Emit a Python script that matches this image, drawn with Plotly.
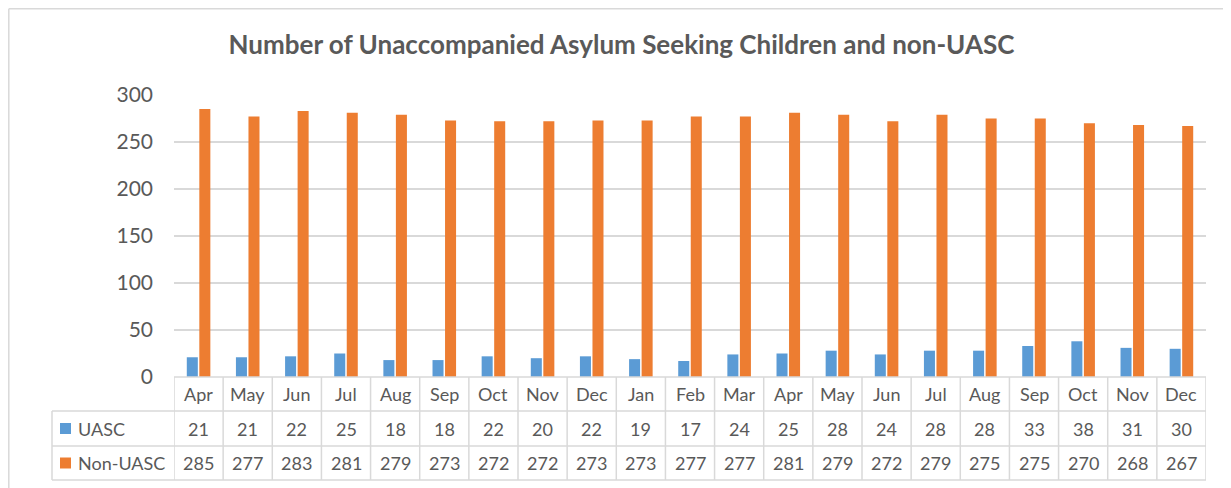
import plotly.graph_objects as go

months = ["Apr", "May", "Jun", "Jul", "Aug", "Sep", "Oct", "Nov", "Dec", "Jan", "Feb",
          "Mar", "Apr", "May", "Jun", "Jul", "Aug", "Sep", "Oct", "Nov", "Dec"]
uasc = [21, 21, 22, 25, 18, 18, 22, 20, 22, 19, 17, 24, 25, 28, 24, 28, 28, 33, 38, 31, 30]
non_uasc = [285, 277, 283, 281, 279, 273, 272, 272, 273, 273, 277, 277, 281, 279, 272, 279,
            275, 275, 270, 268, 267]
series_names = ["UASC", "Non-UASC"]
colors = ["#5B9BD5", "#ED7D31"]
title = "Number of Unaccompanied Asylum Seeking Children and non-UASC"

OFF = 8  # page body margin
W, H = 1231 - OFF, 488 - OFF
L, R, T, B = 174 - OFF, 1206 - OFF, 95 - OFF, 377 - OFF
pw, ph = R - L, B - T


def px(xp):
    return (xp - OFF - L) / pw


def py(yp):
    return (B - (yp - OFF)) / ph


FONT = "Lato, Carlito, Calibri, sans-serif"
TXT = "#595959"
GRID = "#D9D9D9"
n = len(months)
xs = list(range(n))

fig = go.Figure()
for name, vals, c in zip(series_names, [uasc, non_uasc], colors):
    fig.add_trace(go.Bar(x=xs, y=vals, name=name, marker=dict(color=c, line=dict(width=0))))

shapes = []
annotations = []
# chart border (top and left edges)
shapes.append(dict(type="line", xref="paper", yref="paper", x0=px(OFF + 0.8), x1=px(1231), y0=py(OFF + 0.8),
                   y1=py(OFF + 0.8), line=dict(color="#D9D9D9", width=1.5)))
shapes.append(dict(type="line", xref="paper", yref="paper", x0=px(OFF + 0.8), x1=px(OFF + 0.8), y0=py(OFF + 0.8),
                   y1=py(500), line=dict(color="#D9D9D9", width=1.5)))
rows_y = [377, 411, 446, 480]
shapes.append(dict(type="line", xref="x", yref="paper", x0=-0.5, x1=n - 0.5, y0=py(rows_y[0]), y1=py(rows_y[0]),
                   line=dict(color=GRID, width=1.5)))
for yy in rows_y[1:]:
    shapes.append(dict(type="line", xref="paper", yref="paper", x0=px(52), x1=1, y0=py(yy), y1=py(yy),
                       line=dict(color=GRID, width=1.5)))
for i in range(n + 1):
    shapes.append(dict(type="line", xref="x", yref="paper", x0=i - 0.5, x1=i - 0.5, y0=py(rows_y[0]),
                       y1=py(rows_y[3]), line=dict(color=GRID, width=1.5)))
shapes.append(dict(type="line", xref="paper", yref="paper", x0=px(52), x1=px(52), y0=py(rows_y[1]),
                   y1=py(rows_y[3]), line=dict(color=GRID, width=1.5)))

centers = [(rows_y[k] + rows_y[k + 1]) / 2 for k in range(3)]
for i, m in enumerate(months):
    for k, txt in enumerate([m, str(uasc[i]), str(non_uasc[i])]):
        annotations.append(dict(x=i, y=py(centers[k]), xref="x", yref="paper", text=txt, showarrow=False,
                                yanchor="middle", font=dict(size=18, color=TXT, family=FONT)))
for k, (name, c) in enumerate(zip(series_names, colors)):
    cy = centers[k + 1]
    shapes.append(dict(type="rect", xref="paper", yref="paper", x0=px(60), x1=px(71), y0=py(cy + 5.5),
                       y1=py(cy - 5.5), fillcolor=c, line=dict(width=0)))
    annotations.append(dict(x=px(76), y=py(cy), xref="paper", yref="paper", text=name, showarrow=False,
                            xanchor="left", yanchor="middle", font=dict(size=18, color=TXT, family=FONT)))

fig.update_layout(
    width=W, height=H,
    margin=dict(l=L, r=W - R, t=T, b=H - B),
    paper_bgcolor="white", plot_bgcolor="white",
    title=dict(text="<b>" + title + "</b>", x=((228 + 1015) / 2 - OFF) / W, xanchor="center",
               y=1 - (45 - OFF) / H, yanchor="middle", font=dict(size=26, color=TXT, family=FONT)),
    showlegend=False,
    barmode="group", bargap=0.49, bargroupgap=0.12,
    xaxis=dict(range=[-0.5, n - 0.5], showticklabels=False, showgrid=False, zeroline=False,
               showline=False, fixedrange=True),
    yaxis=dict(range=[0, 300], tickvals=[0, 50, 100, 150, 200, 250, 300], showgrid=True, gridcolor=GRID,
               gridwidth=1.5, zeroline=False, showline=False, ticks="", ticklabelstandoff=20,
               tickfont=dict(size=21, color=TXT, family=FONT)),
    shapes=shapes, annotations=annotations,
)
fig.write_html("out.html")
